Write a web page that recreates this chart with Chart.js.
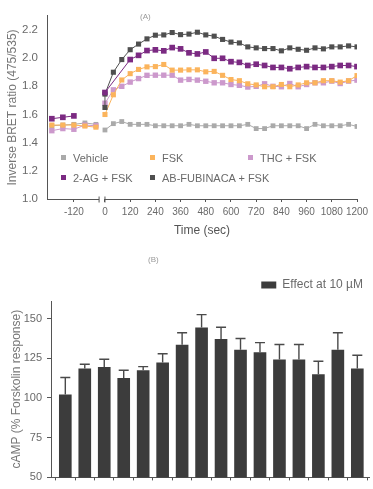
<!DOCTYPE html>
<html>
<head>
<meta charset="utf-8">
<script src="https://cdn.jsdelivr.net/npm/chart.js@4.4.1/dist/chart.umd.min.js"></script>
<style>
  body { margin: 0; background: #fff; width: 373px; height: 489px; position: relative; overflow: hidden; }
  canvas { position: absolute; left: 0; }
  #bret { top: 0; }
  #camp { top: 240px; }
  .lbl { position: absolute; font-family: "Liberation Sans", sans-serif; color: #6a6a6a; white-space: nowrap; }
  .leg { font-size: 11px; line-height: 12px; }
  .leg i { display: inline-block; width: 5px; height: 5px; margin-right: 7px; vertical-align: 2px; }
  .panel { font-size: 8px; color: #999; }
</style>
</head>
<body>
<canvas id="bret" width="373" height="240"></canvas>
<canvas id="camp" width="373" height="249"></canvas>

<div class="lbl panel" style="left:140px; top:12px;">(A)</div>
<div class="lbl panel" style="left:148px; top:255px;">(B)</div>

<div class="lbl leg" style="left:61px; top:152px;"><i style="background:#aaaaaa"></i>Vehicle</div>
<div class="lbl leg" style="left:150px; top:152px;"><i style="background:#fbb45c"></i>FSK</div>
<div class="lbl leg" style="left:248px; top:152px;"><i style="background:#cc99cc"></i>THC + FSK</div>
<div class="lbl leg" style="left:61px; top:172px;"><i style="background:#7b2a82"></i>2-AG + FSK</div>
<div class="lbl leg" style="left:150px; top:172px;"><i style="background:#4f4f4f"></i>AB-FUBINACA + FSK</div>

<script>
// ---- (A) BRET time course ----
const leftTimes = [-180, -150, -120, -90, -60];
const rightTimes = [0, 40, 80, 120, 160, 200, 240, 280, 320, 360, 400, 440, 480, 520, 560, 600,
                    640, 680, 720, 760, 800, 840, 880, 920, 960, 1000, 1040, 1080, 1120, 1160, 1200];
const abTimes = [0, 0, 40, 80, 120, 160, 200, 240, 280, 320, 360, 400, 440, 480, 520, 560, 600,
                 640, 680, 720, 760, 800, 840, 880, 920, 960, 1000, 1040, 1080, 1120, 1160, 1200];
const xTickVals = [-120, 0, 120, 240, 360, 480, 600, 720, 840, 960, 1080, 1200];
const yTickVals = [1.0, 1.2, 1.4, 1.6, 1.8, 2.0, 2.2];

const vehicleLeft = [1.52, 1.525, 1.53, 1.54, 1.53];
const vehicleRight = [1.49, 1.535, 1.55, 1.53, 1.53, 1.53, 1.52, 1.52, 1.52, 1.52, 1.53, 1.52, 1.52, 1.52, 1.52, 1.52,
                      1.52, 1.53, 1.50, 1.50, 1.52, 1.52, 1.52, 1.52, 1.50, 1.53, 1.52, 1.52, 1.52, 1.53, 1.515];
const fskLeft = [1.525, 1.525, 1.525, 1.518, 1.51];
const fskRight = [1.60, 1.74, 1.845, 1.89, 1.92, 1.938, 1.94, 1.955, 1.915, 1.915, 1.917, 1.917, 1.903, 1.906, 1.878, 1.848,
                  1.84, 1.818, 1.81, 1.797, 1.797, 1.813, 1.797, 1.81, 1.825, 1.825, 1.84, 1.84, 1.83, 1.84, 1.876];
const thcLeft = [1.485, 1.50, 1.495, 1.525, 1.52];
const thcRight = [1.68, 1.775, 1.80, 1.83, 1.855, 1.878, 1.879, 1.879, 1.879, 1.844, 1.849, 1.844, 1.836, 1.825, 1.825, 1.813,
                  1.807, 1.795, 1.80, 1.818, 1.80, 1.797, 1.82, 1.797, 1.813, 1.825, 1.825, 1.837, 1.82, 1.837, 1.844];
const agLeft = [1.57, 1.58, 1.59];
const agRight = [1.756, null, null, 1.99, 2.02, 2.054, 2.059, 2.052, 2.075, 2.066, 2.038, 2.03, 2.044, 1.999, 1.999, 1.975,
                 1.97, 1.948, 1.957, 1.948, 1.934, 1.934, 1.925, 1.934, 1.94, 1.934, 1.934, 1.94, 1.948, 1.948, 1.94];
const abRight = [1.65, 1.745, 1.90, 1.99, 2.06, 2.10, 2.137, 2.163, 2.165, 2.182, 2.167, 2.171, 2.184, 2.165, 2.156, 2.133, 2.114,
                 2.108, 2.08, 2.073, 2.068, 2.068, 2.052, 2.073, 2.063, 2.056, 2.073, 2.066, 2.08, 2.08, 2.087, 2.08];

// ---- (B) cAMP bars ----
const barLabels = ['1', '2', '3', '4', '5', '6', '7', '8', '9', '10', '11', '12', '13', '14', '15', '16'];
const barValues = [102.1, 118.6, 119.5, 112.6, 117.4, 122.3, 133.5, 144.4, 137.1, 130.4, 128.8, 124.2, 124.2, 114.9, 130.4, 118.6];
const barErrors = [10.8, 2.6, 4.8, 4.8, 2.3, 5.5, 7.5, 8.0, 7.4, 7.0, 6.0, 9.4, 9.4, 8.2, 10.6, 8.3];
const campTicks = [50, 75, 100, 125, 150];

const sans = '"Liberation Sans", Arial, sans-serif';
const textGrey = '#6a6a6a';

// broken time axis: the baseline part before t=0 is stretched
const leftTick = -120, leftTickAt = -148, leftStretch = 1.75, breakPos = -28;
const axisPos = t => t < 0 ? leftTickAt + (t - leftTick) * leftStretch : t;

function series(lVals, rVals, rTimes) {
    const pts = [];
    lVals.forEach((v, i) => pts.push({ x: axisPos(leftTimes[i]), y: v }));
    pts.push({ x: breakPos, y: null });
    rVals.forEach((v, i) => { if (v !== null) pts.push({ x: rTimes[i], y: v }); });
    return pts;
}

function line(label, data, color, r) {
    return {
        label, data,
        borderColor: color, backgroundColor: color,
        borderWidth: 1, pointStyle: 'rect', pointRadius: r, pointHoverRadius: r,
        pointBorderWidth: 0, tension: 0, spanGaps: false
    };
}

const brokenAxis = {
    id: 'brokenAxis',
    afterDatasetsDraw(chart) {
        const { ctx, chartArea } = chart;
        const x = chart.scales.x;
        const y = chartArea.bottom + 0.5;
        const xb = x.getPixelForValue(breakPos);
        const x0 = x.getPixelForValue(0);
        ctx.save();
        ctx.strokeStyle = '#555';
        ctx.lineWidth = 1;
        ctx.beginPath();
        ctx.moveTo(chartArea.left, y); ctx.lineTo(xb, y);
        ctx.moveTo(x0, y); ctx.lineTo(chartArea.right, y);
        ctx.moveTo(xb, y - 3); ctx.lineTo(xb, y + 3);
        ctx.moveTo(x0, y - 3); ctx.lineTo(x0, y + 3);
        ctx.stroke();
        ctx.restore();
    }
};

new Chart(document.getElementById('bret'), {
    type: 'line',
    data: {
        datasets: [
            line('2-AG + FSK', series(agLeft, agRight, rightTimes), '#7b2a82', 4),
            line('AB-FUBINACA + FSK', series([], abRight, abTimes), '#4f4f4f', 3.6),
            line('FSK', series(fskLeft, fskRight, rightTimes), '#fbb45c', 3.6),
            line('THC + FSK', series(thcLeft, thcRight, rightTimes), '#cc99cc', 3.8),
            line('Vehicle', series(vehicleLeft, vehicleRight, rightTimes), '#aaaaaa', 3.4)
        ]
    },
    options: {
        responsive: false, animation: false,
        layout: { padding: { top: 11.6, right: 16, left: 0, bottom: 0 } },
        plugins: { legend: { display: false }, tooltip: { enabled: false } },
        scales: {
            x: {
                type: 'linear', min: -276, max: 1200,
                afterFit: s => { s.height = 41; },
                afterBuildTicks: s => { s.ticks = xTickVals.map(v => ({ value: axisPos(v) })); },
                ticks: {
                    autoSkip: false, maxRotation: 0, padding: 4,
                    color: textGrey, font: { family: sans, size: 10 },
                    callback: (v, i) => String(xTickVals[i])
                },
                grid: { display: true, drawOnChartArea: false, drawTicks: true, tickLength: 3, color: '#555' },
                border: { display: false },
                title: { display: true, text: 'Time (sec)', color: '#555', font: { family: sans, size: 12 }, padding: { top: 0, bottom: 2 } }
            },
            y: {
                min: 1.0, max: 2.3,
                afterFit: s => { s.width = 47; },
                afterBuildTicks: s => { s.ticks = yTickVals.map(v => ({ value: v })); },
                ticks: { padding: 9, color: textGrey, font: { family: sans, size: 11.5 }, callback: v => v.toFixed(1) },
                grid: { display: false, drawTicks: false },
                border: { display: true, color: '#555', width: 1 },
                title: { display: true, text: 'Inverse BRET ratio (475/535)', color: '#777', font: { family: sans, size: 12 }, padding: { top: 5, bottom: 0 } }
            }
        }
    },
    plugins: [brokenAxis]
});

const errorBars = {
    id: 'errorBars',
    afterDatasetsDraw(chart) {
        const { ctx } = chart;
        const x = chart.scales.x, y = chart.scales.y;
        ctx.save();
        ctx.strokeStyle = '#4a4a4a';
        ctx.lineWidth = 1.4;
        barValues.forEach((v, i) => {
            const px = x.getPixelForValue(i + 1);
            const top = y.getPixelForValue(v + barErrors[i]);
            const base = y.getPixelForValue(v);
            ctx.beginPath();
            ctx.moveTo(px, base); ctx.lineTo(px, top);
            ctx.moveTo(px - 5, top); ctx.lineTo(px + 5, top);
            ctx.stroke();
        });
        ctx.restore();
    }
};

new Chart(document.getElementById('camp'), {
    type: 'bar',
    data: {
        datasets: [{
            label: 'Effect at 10 µM',
            data: barValues.map((v, i) => ({ x: i + 1, y: v })),
            backgroundColor: '#3c3c3c', borderWidth: 0,
            barPercentage: 0.65, categoryPercentage: 1
        }]
    },
    options: {
        responsive: false, animation: false,
        layout: { padding: { top: 33, right: 4, left: 0, bottom: 0 } },
        plugins: {
            tooltip: { enabled: false },
            legend: {
                display: true, position: 'top', align: 'end',
                labels: { boxWidth: 15, boxHeight: 7, color: textGrey, font: { family: sans, size: 12 }, padding: 6 }
            }
        },
        scales: {
            x: {
                type: 'linear', min: 0.265, max: 16.6, offset: false,
                afterFit: s => { s.height = 2; },
                afterBuildTicks: s => { s.ticks = barLabels.map((l, i) => ({ value: i + 1 })); },
                ticks: { display: false },
                grid: { display: true, drawOnChartArea: false, drawTicks: true, tickLength: 3, color: '#555' },
                border: { display: true, color: '#555' }
            },
            y: {
                min: 50, max: 161,
                afterFit: s => { s.width = 51; },
                afterBuildTicks: s => { s.ticks = campTicks.map(v => ({ value: v })); },
                ticks: { padding: 5, color: textGrey, font: { family: sans, size: 11 } },
                grid: { display: true, drawOnChartArea: false, drawTicks: true, tickLength: 4, color: '#555' },
                border: { display: true, color: '#555' },
                title: { display: true, text: 'cAMP (% Forskolin response)', color: '#777', font: { family: sans, size: 12 }, padding: { top: 9, bottom: 0 } }
            }
        }
    },
    plugins: [errorBars]
});
</script>
</body>
</html>
